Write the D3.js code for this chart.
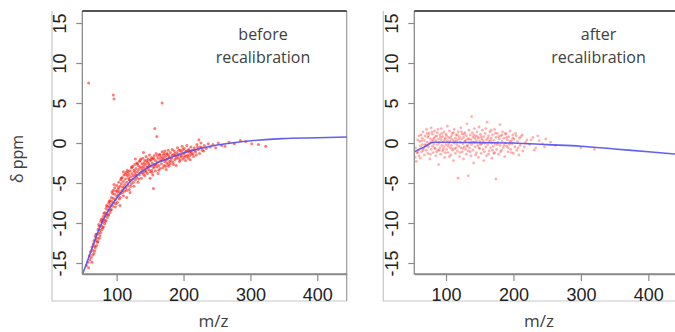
<!DOCTYPE html>
<html>
<head>
<meta charset="utf-8">
<script src="https://cdn.jsdelivr.net/npm/d3@7"></script>
<style>
  body { margin: 0; background: #fff; }
  .tick text { font-family: "Liberation Sans", Arial, sans-serif; font-size: 18px; fill: #222; }
  .lbl { font-family: "Open Sans", sans-serif; fill: #404040; }
</style>
</head>
<body>
<div id="chart"></div>
<script>
// axis ticks
const xTicks = [100, 200, 300, 400];
const yTicks = [-15, -10, -5, 0, 5, 10, 15];

const titles = [["before", "recalibration"], ["after", "recalibration"]];

// fitted calibration curves (m/z, delta ppm)
const beforeLineMz = [49, 60, 73, 85, 100, 123, 148, 175, 198, 235, 272, 310, 347, 400, 445];
const beforeLinePpm = [-16.4, -13.9, -10.9, -8.8, -6.9, -4.6, -3.0, -2.0, -1.3, -0.5, 0.0, 0.35, 0.55, 0.65, 0.75];
const afterLineMz = [53, 60, 70, 81, 100, 150, 200, 250, 300, 350, 400, 450];
const afterLinePpm = [-1.1, -0.8, -0.4, 0.1, 0.1, 0.05, 0.0, -0.2, -0.4, -0.75, -1.1, -1.45];

// peaks before recalibration [m/z, delta ppm]
const beforePoints = [
  [55,-15.3],[57,-14.9],[58,-15.6],[59,-14.1],[60,-14.6],[61,-13.6],[62,-14.3],[63,-13.0],[63,-14.9],[64,-13.4],
  [65,-12.6],[66,-13.8],[66,-12.2],[67,-12.9],[68,-11.7],[68,-13.1],[69,-12.2],[70,-11.4],[70,-12.8],[71,-11.9],
  [72,-10.8],[72,-12.3],[73,-11.3],[74,-10.4],[74,-11.9],[75,-10.9],[76,-9.8],[76,-11.2],[77,-10.3],[78,-9.5],
  [78,-10.8],[79,-9.9],[80,-9.2],[80,-10.5],[81,-9.6],[82,-8.7],[82,-10.1],[83,-9.1],[84,-8.2],[84,-9.7],
  [85,-8.8],[86,-7.9],[86,-9.3],[87,-8.4],[88,-7.5],[88,-9.0],[89,-8.0],[90,-7.2],[90,-8.7],[91,-7.7],
  [92,-6.8],[92,-8.3],[93,-7.3],[94,-6.3],[94,-7.9],[95,-6.9],[95,-5.9],[96,-7.5],[97,-6.4],[97,-5.6],
  [98,-7.1],[98,-8.0],[99,-6.0],[100,-6.7],[100,-5.3],[101,-7.4],[102,-5.8],[102,-6.5],[103,-4.9],[104,-6.1],
  [104,-7.0],[105,-5.4],[106,-4.6],[106,-6.3],[107,-5.1],[108,-5.9],[108,-4.3],[109,-5.5],[110,-6.6],[110,-4.8],
  [111,-4.0],[112,-5.2],[112,-6.0],[113,-4.5],[114,-3.7],[114,-5.6],[115,-4.9],[116,-4.1],[116,-3.4],[117,-5.3],
  [118,-4.4],[118,-3.9],[119,-5.8],[120,-3.5],[120,-4.7],[121,-4.2],[122,-3.1],[122,-5.1],[123,-3.8],[124,-4.5],
  [124,-2.9],[125,-4.1],[126,-3.4],[126,-5.4],[127,-2.7],[128,-3.9],[128,-4.6],[129,-3.2],[130,-2.5],[130,-4.3],
  [131,-3.6],[132,-2.8],[132,-4.9],[133,-3.3],[134,-2.3],[134,-4.0],[135,-3.0],[136,-3.7],[136,-2.0],[137,-4.4],
  [138,-2.6],[138,-3.4],[139,-1.9],[140,-3.9],[140,-2.9],[141,-3.2],[142,-2.2],[142,-4.1],[143,-2.7],[144,-3.5],
  [144,-1.7],[145,-3.0],[146,-2.4],[146,-3.8],[147,-2.0],[148,-3.3],[148,-2.6],[149,-1.5],[150,-3.6],[150,-2.2],
  [151,-2.9],[152,-1.8],[152,-3.4],[153,-2.5],[154,-4.0],[154,-2.0],[155,-3.1],[155,-5.7],[156,-1.6],[157,-2.7],
  [157,1.8],[158,-3.5],[158,-2.2],[159,-1.3],[160,-3.0],[160,0.8],[161,-2.4],[162,-1.9],[162,-3.8],[163,-2.8],
  [164,-1.4],[165,-2.2],[165,-3.2],[166,-1.8],[167,-2.6],[168,-1.1],[168,5.0],[169,-3.1],[170,-2.0],[170,-1.5],
  [171,-2.8],[172,-2.3],[172,-1.0],[173,-1.7],[174,-3.3],[175,-2.5],[175,-1.3],[176,-2.0],[177,-0.9],[178,-2.9],
  [178,-1.6],[179,-2.3],[180,-1.2],[180,-2.6],[182,-1.9],[183,-0.8],[184,-2.4],[185,-1.5],[186,-1.0],[187,-2.1],
  [188,-1.6],[189,-2.8],[190,-1.2],[191,-0.6],[192,-1.9],[193,-1.4],[194,-2.3],[195,-0.9],[196,-1.7],[197,-1.1],
  [198,-0.4],[199,-2.0],[200,-1.3],[201,-0.7],[202,-1.6],[203,-2.2],[204,-1.0],[205,-0.3],[206,-1.5],[207,-1.9],
  [208,-0.8],[209,-1.2],[210,-2.1],[211,-0.5],[212,-1.4],[213,-0.9],[215,-1.7],[216,-0.6],[218,-1.1],[220,-0.2],
  [222,-0.8],[223,0.4],[224,-1.3],[225,-0.5],[226,0.0],[228,-0.9],[231,-0.3],[234,-0.7],[237,-0.1],[240,-0.5],
  [244,-0.2],[248,-0.6],[252,0.0],[257,-0.3],[262,-0.4],[268,0.1],[276,-0.1],[285,0.3],[293,0.2],[302,-0.1],
  [312,-0.2],[323,-0.4],[58,7.5],[95,6.0],[96,5.5],
  [93,-6.1],[96,-5.2],[99,-7.6],[101,-6.1],[103,-5.6],[105,-6.8],[107,-4.4],[109,-6.2],[111,-5.6],[113,-3.9],
  [115,-5.9],[117,-3.6],[119,-4.6],[121,-5.4],[123,-3.0],[125,-4.9],[127,-3.6],[129,-4.1],[131,-2.6],[133,-4.5],
  [135,-2.2],[137,-3.1],[139,-3.7],[141,-2.5],[143,-3.6],[145,-2.2],[147,-3.0],[149,-2.8],[151,-2.1],[153,-3.7],
  [155,-1.9],[156,-2.9],[159,-2.7],[161,-1.6],[163,-3.4],[165,-1.5],[167,-2.2],[169,-1.8],[171,-1.3],[173,-2.9],
  [174,-2.1],[176,-1.4],[177,-2.7],[179,-1.8],[181,-2.2],[183,-1.5],[185,-2.7],[187,-1.3],[189,-1.9],[191,-1.6],
  [193,-0.9],[195,-2.1],[197,-1.6],[199,-0.8],[201,-1.8],[203,-1.1],[205,-1.7],[207,-0.9],[209,-1.6],[211,-1.1],
  [214,-1.3],[217,-0.9],[219,-1.5],[221,-0.5],[227,-0.6],[230,-1.0],[64,-14.0],[67,-13.5],[69,-11.4],[71,-12.4],
  [73,-10.2],[75,-11.6],[77,-9.6],[79,-10.6],[81,-8.8],[83,-9.8],[85,-7.8],[87,-9.0],[89,-7.3],[91,-8.4],
  [120,-6.2],[110,-3.6],[140,-1.2],[150,-4.4],[128,-2.0],[105,-7.8],[115,-6.8]
];

// peaks after recalibration [m/z, delta ppm]
const afterPoints = [
  [54,-1.8],[55,-0.6],[56,-2.3],[57,-1.2],[58,0.4],[59,-0.9],[60,-1.6],[61,0.2],[62,-0.4],[63,1.0],
  [64,-1.1],[65,0.6],[65,-0.2],[66,1.4],[67,-0.7],[68,0.3],[68,-1.5],[69,0.9],[70,-0.3],[71,1.7],
  [71,-0.9],[72,0.1],[73,-1.3],[73,0.7],[74,-0.5],[75,1.2],[76,0.0],[76,-2.0],[77,0.5],[78,-0.8],
  [78,1.9],[79,0.2],[80,-0.4],[80,1.1],[81,-1.2],[82,0.6],[82,-0.1],[83,1.5],[84,-0.7],[85,0.3],
  [85,-1.6],[86,0.9],[87,-0.2],[87,1.3],[88,-0.9],[89,0.5],[89,-2.7],[90,0.0],[91,1.0],[91,-0.6],
  [92,-1.4],[93,0.4],[93,1.8],[94,-0.3],[95,0.8],[95,-1.0],[96,0.1],[97,1.4],[97,-0.5],[98,-1.8],
  [99,0.6],[100,-0.2],[100,1.1],[101,-0.8],[102,0.3],[102,2.1],[103,-1.2],[104,0.7],[104,-0.1],[105,1.5],
  [106,-0.6],[106,0.2],[107,-1.5],[108,0.9],[108,-0.3],[109,1.2],[110,-0.9],[110,0.4],[111,-2.2],[112,0.0],
  [112,1.7],[113,-0.7],[114,0.6],[114,-1.3],[115,1.0],[116,-0.2],[116,0.3],[117,-1.0],[118,1.4],[118,-4.4],
  [119,-0.4],[120,0.8],[120,-1.7],[121,0.1],[122,1.9],[122,-0.6],[123,0.5],[124,-1.1],[124,1.1],[125,-0.1],
  [126,0.7],[126,-2.0],[127,-0.5],[128,1.3],[128,0.2],[129,-0.8],[130,0.9],[130,-1.4],[131,2.4],[132,-0.3],
  [132,0.5],[133,-4.1],[133,-1.0],[134,1.6],[135,0.0],[135,-0.6],[136,1.0],[137,-1.6],[137,0.4],[138,3.3],
  [138,-0.2],[139,1.3],[140,-0.9],[140,0.7],[141,-2.5],[142,0.1],[142,1.8],[143,-0.5],[144,0.9],[145,-1.2],
  [145,0.3],[146,1.4],[147,-0.3],[148,-1.8],[148,0.6],[149,2.0],[150,-0.7],[150,0.2],[151,1.1],[152,-1.3],
  [153,0.5],[153,-0.1],[154,1.6],[155,-0.8],[156,0.8],[156,-2.2],[157,0.0],[158,1.2],[159,-0.5],[160,0.4],
  [160,-1.6],[161,2.6],[162,-0.2],[163,0.9],[164,-1.0],[164,0.2],[165,1.4],[166,-0.6],[167,0.6],[168,-1.9],
  [168,0.0],[169,1.0],[170,-0.4],[171,0.3],[172,-1.2],[172,1.7],[173,-0.1],[174,-4.5],[174,0.7],[175,-0.8],
  [176,1.2],[177,0.1],[178,-1.4],[179,0.5],[180,-0.3],[180,2.3],[181,0.9],[182,-0.9],[183,0.2],[184,1.4],
  [185,-0.6],[186,0.6],[187,-1.7],[188,0.0],[189,1.1],[190,-0.4],[191,0.4],[192,-1.1],[193,0.8],[194,-0.2],
  [195,1.5],[196,-0.8],[197,0.3],[198,-0.1],[199,1.0],[200,-1.3],[201,0.5],[202,-0.5],[204,0.9],[205,-0.9],
  [206,0.2],[208,-1.5],[209,0.6],[210,-0.3],[213,1.0],[216,-0.5],[220,0.4],[224,-0.2],[229,0.7],[233,-0.6],
  [238,0.3],[243,-0.1],[248,0.5],[255,0.1],[262,-0.3],[300,-0.6],[320,-0.8],
  [58,-1.2],[60,0.9],[62,-1.9],[64,0.3],[66,-0.9],[69,-0.2],[72,1.2],[74,0.9],[77,-1.4],[79,1.4],
  [81,0.4],[83,-0.6],[84,0.8],[86,-1.1],[88,1.7],[90,-0.9],[92,0.7],[94,1.2],[96,-0.8],[98,0.4],
  [99,-1.2],[101,0.9],[103,-0.4],[105,-1.7],[107,0.6],[109,-0.7],[111,1.3],[113,0.2],[115,-0.6],[117,1.0],
  [119,0.5],[121,-1.2],[123,1.4],[125,-0.7],[127,1.1],[129,0.3],[131,-0.4],[134,0.5],[136,-1.1],[139,0.1],
  [141,1.0],[143,0.6],[144,-1.5],[147,0.8],[149,-0.6],[151,-0.2],[152,0.8],[155,0.3],[157,-1.1],[159,1.8],
  [162,0.6],[163,-1.4],[166,0.3],[167,1.6],[169,-0.9],[171,-1.3],[173,1.2],[176,-0.2],[178,0.8],[181,-1.1],
  [183,1.0],[186,-0.3],[188,1.2],[190,0.7],[192,-0.6],[195,0.2],[197,-1.2],[199,0.6],[203,1.2],[207,-0.6],
  [211,0.8],[214,-1.0],[218,0.1],[226,0.4],[231,-0.9],[236,0.9],[246,-0.5]
];

function drawChart() {
  const W = 675, H = 332;
  const top = 11, bottom = 274, frameBottom = 301;

  // one layout entry per panel
  const panels = [
    { frameLeft: 52, left: 82.3, right: 346.7, xDomain: [48.6, 444], titleX: 263, labelX: 213.5,
      points: beforePoints, lineMz: beforeLineMz, linePpm: beforeLinePpm, r: 1.5, opacity: 0.55 },
    { frameLeft: 383.3, left: 414.3, right: 678.7, xDomain: [53, 445], titleX: 598.5, labelX: 539,
      points: afterPoints, lineMz: afterLineMz, linePpm: afterLinePpm, r: 1.4, opacity: 0.32 }
  ];

  const svg = d3.select("#chart").append("svg")
    .attr("width", W).attr("height", H);

  // same y scale for both panels
  const y = d3.scaleLinear().domain([-15, 15]).range([263, 23]);

  // y label
  svg.append("text")
    .attr("class", "lbl")
    .attr("transform", "translate(23,159) rotate(-90)")
    .attr("text-anchor", "middle")
    .style("font-size", "16px")
    .text("δ ppm");

  panels.forEach((p, i) => {
    const x = d3.scaleLinear().domain(p.xDomain).range([p.left, p.right]);
    const g = svg.append("g");

    // outer grey frame
    g.append("path")
      .attr("d", `M${p.frameLeft},${top} V${frameBottom} H${p.right}`)
      .attr("fill", "none").attr("stroke", "#c8c8c8").attr("stroke-width", 1.2);
    g.append("line")
      .attr("x1", p.right).attr("x2", p.right).attr("y1", top).attr("y2", frameBottom)
      .attr("stroke", "#9a9a9a").attr("stroke-width", 1.2);

    // clip for data
    g.append("clipPath").attr("id", "clip" + i)
      .append("rect")
      .attr("x", p.left).attr("y", top)
      .attr("width", p.right - p.left).attr("height", bottom - top);

    const data = g.append("g").attr("clip-path", `url(#clip${i})`);

    // scatter points
    data.selectAll("circle")
      .data(p.points)
      .enter()
      .append("circle")
      .attr("cx", d => x(d[0]))
      .attr("cy", d => y(d[1]))
      .attr("r", p.r)
      .attr("fill", "#ff0d00")
      .attr("fill-opacity", p.opacity);

    // fitted curve
    const line = d3.line()
      .x(d => x(d[0]))
      .y(d => y(d[1]))
      .curve(d3.curveMonotoneX);
    data.append("path")
      .datum(p.lineMz.map((m, k) => [m, p.linePpm[k]]))
      .attr("d", line)
      .attr("fill", "none")
      .attr("stroke", "#4f4ff2")
      .attr("stroke-opacity", 0.9)
      .attr("stroke-width", 1.6);

    // x axis
    const xAxis = g.append("g")
      .attr("transform", `translate(0,${bottom})`)
      .call(d3.axisBottom(x).tickValues(xTicks).tickSize(7).tickSizeOuter(0).tickPadding(4));
    xAxis.select(".domain").attr("stroke", "#8a8a8a").attr("stroke-width", 1.3);
    xAxis.selectAll(".tick line").attr("stroke", "#8a8a8a").attr("stroke-width", 1.2);
    xAxis.selectAll(".tick text").attr("y", 26.5).attr("dy", null);

    // y axis with rotated labels
    const yAxis = g.append("g")
      .attr("transform", `translate(${p.left},0)`)
      .call(d3.axisLeft(y).tickValues(yTicks).tickSize(6).tickSizeOuter(0).tickFormat(d => String(d)));
    yAxis.select(".domain").remove();
    yAxis.selectAll(".tick line").attr("stroke", "#8a8a8a").attr("stroke-width", 1.2);
    yAxis.selectAll(".tick text")
      .attr("x", null).attr("dy", null)
      .attr("text-anchor", "middle")
      .attr("transform", "translate(-16.5,0) rotate(-90)");

    // plot box
    g.append("path")
      .attr("d", `M${p.left},${top} V${bottom} H${p.right}`)
      .attr("fill", "none").attr("stroke", "#8a8a8a").attr("stroke-width", 1.3);
    g.append("line")
      .attr("x1", p.left).attr("x2", p.right).attr("y1", top).attr("y2", top)
      .attr("stroke", "#1a1a1a").attr("stroke-width", 1.3);

    // panel title
    const t = g.append("text")
      .attr("class", "lbl")
      .attr("text-anchor", "middle")
      .style("font-size", "16px");
    titles[i].forEach((s, k) => {
      t.append("tspan").attr("x", p.titleX).attr("y", 39.5 + k * 23).text(s);
    });

    // x label
    g.append("text")
      .attr("class", "lbl")
      .attr("x", p.labelX).attr("y", 327)
      .attr("text-anchor", "middle")
      .style("font-size", "17px")
      .text("m/z");
  });
}

window.onload = drawChart;
</script>
</body>
</html>
